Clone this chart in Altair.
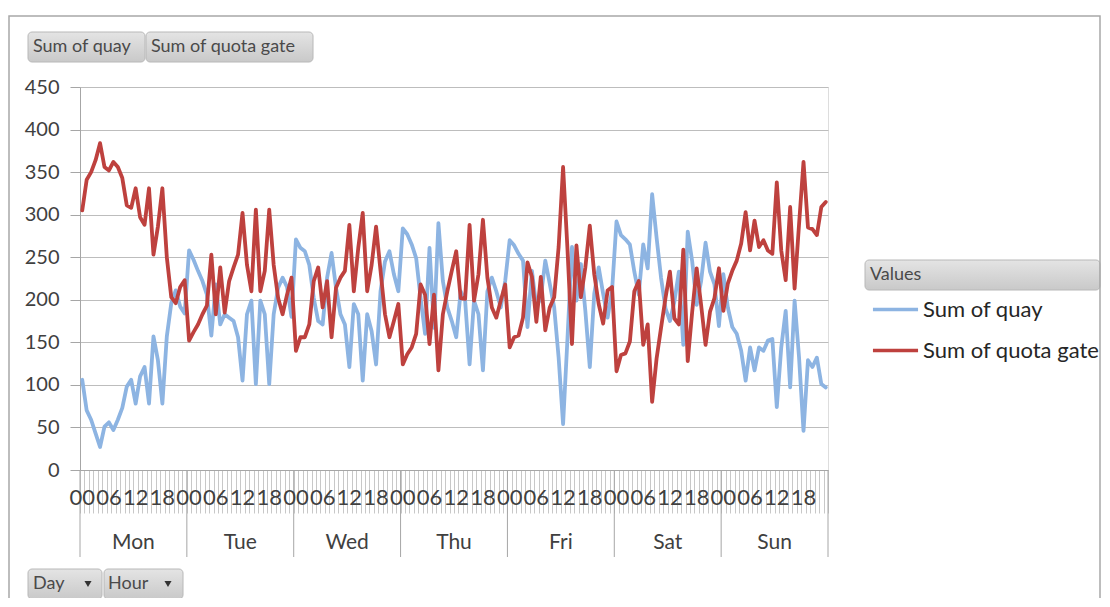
import altair as alt
import pandas as pd

days = ["Mon", "Tue", "Wed", "Thu", "Fri", "Sat", "Sun"]
hour_labels = ["00", "06", "12", "18"]
hour_label_hours = [0, 6, 12, 18]
series_names = ["Sum of quay", "Sum of quota gate"]
header_buttons = ["Sum of quay", "Sum of quota gate"]
footer_buttons = ["Day", "Hour"]
legend_header = "Values"

quay_mon = [106, 70, 59, 43, 27, 51, 56, 47, 59, 73, 98, 106, 78, 110, 121, 78, 157, 129, 78, 157, 196, 211, 192, 184]
quay_tue = [258, 247, 234, 222, 206, 158, 218, 171, 183, 179, 175, 156, 105, 183, 199, 101, 199, 183, 101, 183, 214, 226, 215, 180]
quay_wed = [271, 261, 257, 241, 202, 175, 171, 226, 255, 214, 183, 171, 121, 195, 183, 105, 183, 163, 124, 210, 245, 257, 230, 210]
quay_thu = [284, 277, 265, 249, 202, 160, 261, 167, 290, 222, 191, 175, 156, 210, 199, 124, 199, 183, 117, 210, 226, 210, 191, 222]
quay_fri = [270, 264, 254, 246, 168, 234, 191, 203, 246, 219, 191, 132, 54, 156, 262, 199, 242, 187, 121, 207, 238, 207, 179, 211]
quay_sat = [292, 276, 271, 265, 233, 206, 265, 237, 324, 273, 226, 190, 175, 198, 233, 147, 280, 245, 194, 222, 267, 233, 218, 169]
quay_sun = [230, 191, 168, 160, 140, 105, 144, 117, 144, 140, 152, 154, 74, 144, 187, 97, 199, 132, 46, 129, 121, 132, 101, 97]

gate_mon = [305, 341, 350, 364, 384, 356, 352, 362, 356, 343, 311, 308, 331, 297, 288, 331, 253, 286, 331, 250, 203, 196, 215, 223]
gate_tue = [152, 162, 171, 183, 193, 253, 183, 238, 185, 222, 238, 253, 302, 241, 210, 306, 210, 234, 306, 241, 202, 183, 206, 226]
gate_wed = [140, 156, 156, 171, 222, 238, 191, 222, 156, 214, 226, 234, 288, 210, 261, 302, 210, 241, 286, 234, 183, 156, 175, 195]
gate_thu = [124, 136, 144, 160, 218, 206, 148, 206, 117, 183, 210, 234, 257, 202, 201, 288, 199, 230, 294, 226, 191, 179, 199, 218]
gate_fri = [144, 156, 158, 179, 244, 227, 174, 227, 164, 191, 203, 262, 356, 258, 148, 264, 203, 238, 287, 230, 195, 172, 211, 215]
gate_sat = [116, 135, 137, 151, 210, 222, 147, 171, 80, 131, 167, 202, 233, 178, 171, 259, 128, 186, 237, 194, 147, 186, 202, 237]
gate_sun = [187, 219, 234, 246, 266, 303, 258, 293, 262, 270, 258, 254, 338, 258, 223, 309, 213, 289, 362, 285, 283, 276, 309, 315]

quay = quay_mon + quay_tue + quay_wed + quay_thu + quay_fri + quay_sat + quay_sun
gate = gate_mon + gate_tue + gate_wed + gate_thu + gate_fri + gate_sat + gate_sun

rows = []
for name, vals in zip(series_names, [quay, gate]):
    for i, v in enumerate(vals):
        rows.append({"idx": i, "series": name, "value": v})
df = pd.DataFrame(rows)

n = len(quay)
W, H = 748, 383
FONT = "Lato"
TXT = "#404040"

xscale = alt.Scale(domain=[-0.5, n - 0.5], nice=False, zero=False)
xaxis = alt.Axis(values=[i - 0.5 for i in range(n + 1)], labels=False, tickSize=43,
                 tickColor="#c8c8c8", domainColor="#a6a6a6", grid=False, title=None)
yaxis = alt.Axis(values=list(range(0, 451, 50)), tickSize=10, tickColor="#a6a6a6",
                 domainColor="#a6a6a6", gridColor="#bdbdbd", labelFont=FONT,
                 labelFontSize=20, labelColor=TXT, labelPadding=11, title=None)

lines = alt.Chart(df).mark_line(strokeWidth=3.8, strokeJoin="round", strokeCap="round").encode(
    x=alt.X("idx:Q", scale=xscale, axis=xaxis),
    y=alt.Y("value:Q", scale=alt.Scale(domain=[0, 450], nice=False), axis=yaxis),
    color=alt.Color("series:N",
                    scale=alt.Scale(domain=series_names, range=["#8DB4E2", "#BE413E"]),
                    legend=alt.Legend(orient="none", legendX=793, legendY=200, title=None,
                                      symbolType="M-1.1,0H1.1", symbolSize=1681,
                                      symbolStrokeWidth=3.5, labelFont=FONT, labelFontSize=22,
                                      labelColor="#262626", labelOffset=5, rowPadding=7,
                                      labelLimit=400, padding=0)),
)

hdf = pd.DataFrame([{"idx": d * 24 + h, "label": lab}
                    for d in range(len(days)) for h, lab in zip(hour_label_hours, hour_labels)])
hour_text = alt.Chart(hdf).mark_text(font=FONT, fontSize=22, color=TXT, baseline="middle").encode(
    x=alt.X("idx:Q", scale=xscale, axis=xaxis), y=alt.value(411), text="label:N")

ddf = pd.DataFrame({"idx": [d * 24 + 11.5 for d in range(len(days))], "label": days})
day_text = alt.Chart(ddf).mark_text(font=FONT, fontSize=21, color=TXT, baseline="middle").encode(
    x=alt.X("idx:Q", scale=xscale, axis=xaxis), y=alt.value(456), text="label:N")

rdf = pd.DataFrame({"idx": [d * 24 - 0.5 for d in range(len(days) + 1)]})
day_rules = alt.Chart(rdf).mark_rule(color="#a6a6a6", strokeWidth=1).encode(
    x=alt.X("idx:Q", scale=xscale, axis=xaxis), y=alt.value(383), y2=alt.value(470))

grad = alt.Gradient(gradient="linear", x1=0, x2=0, y1=0, y2=1,
                    stops=[alt.GradientStop(color="#e4e4e4", offset=0),
                           alt.GradientStop(color="#c9c9c9", offset=1)])


def button(label, x0, y0, w, h, tx, size=18, arrow_x=None):
    base = alt.Chart(pd.DataFrame({"label": [label]}))
    parts = [
        base.mark_rect(cornerRadius=4, stroke="#b8b8b8", strokeWidth=1, fill=grad).encode(
            x=alt.value(x0), x2=alt.value(x0 + w), y=alt.value(y0), y2=alt.value(y0 + h)),
        base.mark_text(align="left", baseline="middle", font=FONT, fontSize=size, color="#4a4a4a").encode(
            x=alt.value(tx), y=alt.value(y0 + h / 2), text="label:N"),
    ]
    if arrow_x is not None:
        parts.append(base.mark_point(shape="triangle-down", filled=True, size=50, color="#333333",
                                     opacity=1).encode(x=alt.value(arrow_x), y=alt.value(y0 + h / 2)))
    return parts


decor = []
decor += button(header_buttons[0], -52, -55, 117, 30, -47)
decor += button(header_buttons[1], 66, -55, 167, 30, 71)
decor += button(footer_buttons[0], -52, 482, 74, 30, -47, arrow_x=8)
decor += button(footer_buttons[1], 24, 482, 79, 30, 28, arrow_x=88)
decor += button(legend_header, 785, 173, 235, 30, 790)

frame = alt.Chart(pd.DataFrame({"a": [0]})).mark_rect(fill="transparent", stroke="#a8a8a8", strokeWidth=1.5).encode(
    x=alt.value(-71), x2=alt.value(1020), y=alt.value(-71), y2=alt.value(560))

chart = alt.layer(day_rules, lines, hour_text, day_text, *decor, frame).properties(
    width=W, height=H,
    autosize=alt.AutoSizeParams(type="none"),
    padding={"left": 72, "top": 79, "right": 274, "bottom": 128},
).configure_view(stroke=None).configure(background="white")

chart.save("out.html", embed_options={"renderer": "svg", "actions": False})
